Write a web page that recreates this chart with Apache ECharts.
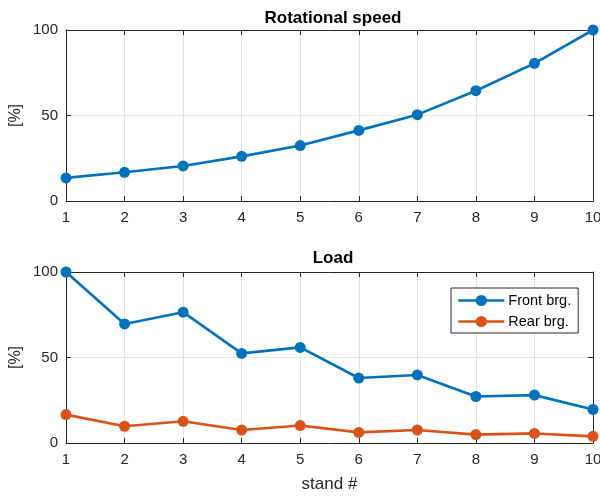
<!DOCTYPE html>
<html><head><meta charset="utf-8">
<script src="https://cdn.jsdelivr.net/npm/echarts@6/dist/echarts.min.js"></script>
<style>html,body{margin:0;padding:0;background:#fff}#c{width:600px;height:497px}</style>
</head><body><div id="c"></div>
<script>
const stands = [1,2,3,4,5,6,7,8,9,10];
const rotSpeed = [13.5,16.8,20.5,26.1,32.4,41.3,50.5,64.5,80.5,100];
const frontBrg = [100,69.6,76.5,52.4,55.9,38.0,39.8,27.2,28.0,19.6];
const rearBrg = [16.6,9.8,12.7,7.6,10.2,6.2,7.6,4.9,5.6,3.9];
const yTicks = [0,50,100];
const titles = ['Rotational speed','Load'];

const AX = '#262626', GRID = '#e3e3e3', BLUE = '#0072BD', ORANGE = '#D95319';
const FONT = 'Liberation Sans, Arial, sans-serif';
const pair = (xs, ys) => xs.map((x, i) => [x, ys[i]]);

function xAx(gi, bottom) {
  return {
    type: 'value', gridIndex: gi, min: stands[0], max: stands[stands.length-1], interval: 1,
    position: bottom ? 'bottom' : 'top',
    name: (bottom && gi === 1) ? 'stand #' : '', nameLocation: 'middle', nameGap: 33,
    nameMoveOverlap: false,
    nameTextStyle: {color: AX, fontSize: 17, fontFamily: FONT},
    axisLine: {show: true, onZero: false, lineStyle: {color: AX, width: 1}},
    axisTick: {show: true, inside: true, length: 5, lineStyle: {color: AX}},
    axisLabel: {show: bottom, color: AX, fontSize: 15, fontFamily: FONT, margin: 9},
    splitLine: {show: bottom, lineStyle: {color: GRID, width: 1}}
  };
}
function yAx(gi, left) {
  return {
    type: 'value', gridIndex: gi, min: yTicks[0], max: yTicks[yTicks.length-1], interval: 50,
    position: left ? 'left' : 'right',
    name: left ? '[%]' : '', nameLocation: 'middle', nameGap: 42, nameRotate: 90,
    nameMoveOverlap: false,
    nameTextStyle: {color: AX, fontSize: 16, fontFamily: FONT},
    axisLine: {show: true, onZero: false, lineStyle: {color: AX, width: 1}},
    axisTick: {show: true, inside: true, length: 5, lineStyle: {color: AX}},
    axisLabel: {show: left, color: AX, fontSize: 15, fontFamily: FONT, margin: 8},
    splitLine: {show: left, lineStyle: {color: GRID, width: 1}}
  };
}
function line(name, gi, data, color) {
  return {
    name, type: 'line', xAxisIndex: gi * 2, yAxisIndex: gi * 2,
    data, symbol: 'circle', symbolSize: 11, showSymbol: true,
    lineStyle: {color, width: 2.6}, itemStyle: {color},
    emphasis: {disabled: true}, animation: false, z: 5
  };
}

const chart = echarts.init(document.getElementById('c'));
chart.setOption({
  backgroundColor: '#fff',
  animation: false,
  title: [
    {text: titles[0], left: 328, top: 5, textAlign: 'center',
     textStyle: {fontSize: 17, fontWeight: 'bold', color: '#000', fontFamily: FONT}},
    {text: titles[1], left: 328, top: 245, textAlign: 'center',
     textStyle: {fontSize: 17, fontWeight: 'bold', color: '#000', fontFamily: FONT}}
  ],
  grid: [
    {left: 66, right: 7, top: 30, height: 171, outerBoundsMode: 'none', containLabel: false},
    {left: 66, right: 7, top: 272, height: 171, outerBoundsMode: 'none', containLabel: false}
  ],
  xAxis: [xAx(0, true), xAx(0, false), xAx(1, true), xAx(1, false)],
  yAxis: [yAx(0, true), yAx(0, false), yAx(1, true), yAx(1, false)],
  legend: {
    data: ['Front brg.', 'Rear brg.'], orient: 'vertical',
    left: 451, top: 288,
    padding: [5, 7, 4, 6], itemGap: 6, itemWidth: 46, itemHeight: 14,
    backgroundColor: '#fff', borderColor: AX, borderWidth: 1, borderRadius: 0,
    lineStyle: {width: 2.6},
    textStyle: {color: '#000', fontSize: 14.5, fontFamily: FONT, padding: [0, 0, 0, -1]}
  },
  series: [
    line('Rotational speed', 0, pair(stands, rotSpeed), BLUE),
    line('Front brg.', 1, pair(stands, frontBrg), BLUE),
    line('Rear brg.', 1, pair(stands, rearBrg), ORANGE)
  ]
});
</script></body></html>
